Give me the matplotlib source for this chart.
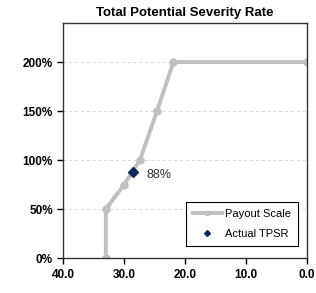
import matplotlib
matplotlib.use("Agg")
from matplotlib import pyplot as plt
from matplotlib.ticker import FuncFormatter
import numpy as np

# Payout scale (TPSR -> payout %)
scale_x = [33.0, 33.0, 30.0, 27.4, 24.6, 21.9, 0.0]
scale_y = [0.0, 0.50, 0.75, 1.00, 1.50, 2.00, 2.00]
actual_x = [28.6]
actual_y = [0.88]
actual_label = "88%"
xticks = [40, 30, 20, 10, 0]
yticks = [0, 0.5, 1.0, 1.5, 2.0]

plt.rcParams['font.family'] = ['Liberation Sans', 'DejaVu Sans']
fig = plt.figure(figsize=(3.16, 2.93), dpi=100)
ax = fig.add_axes([0.200, 0.119, 0.771, 0.803])

ax.plot(scale_x, scale_y, color="#c0c0c0", lw=2.8, marker="o", ms=5,
        label="Payout Scale", zorder=2)
ax.plot(actual_x, actual_y, ls="", marker="D", ms=5, color="#0d2a5c",
        label="Actual TPSR", zorder=3)
ax.annotate(actual_label, (actual_x[0], actual_y[0]), xytext=(10, -2),
            textcoords="offset points", fontsize=9, color="#333333", va="center")

ax.set_xlim(40, 0)
ax.set_ylim(0, 2.4)
ax.set_xticks(xticks)
ax.set_yticks(yticks)
ax.xaxis.set_major_formatter(FuncFormatter(lambda v, p: "{:.1f}".format(v)))
ax.yaxis.set_major_formatter(FuncFormatter(lambda v, p: "{:.0f}%".format(v*100)))
ax.tick_params(labelsize=8.5, length=4, direction="out", width=1)
for lab in ax.get_xticklabels() + ax.get_yticklabels():
    lab.set_fontweight("bold")
ax.grid(axis="y", ls=(0, (3, 3)), color="#d8d8d8", lw=0.7)
ax.set_axisbelow(True)
for s in ax.spines.values():
    s.set_color("#333333")
    s.set_linewidth(1)

ax.set_title("Total Potential Severity Rate", fontsize=9.5, fontweight="bold", pad=5)
leg = ax.legend(loc="lower right", fontsize=8, fancybox=False, edgecolor="#000000",
                framealpha=1, borderpad=0.6, handlelength=2.6, handletextpad=0.3,
                labelspacing=0.9, markerscale=0.6, bbox_to_anchor=(0.985, 0.03))
leg.get_frame().set_linewidth(0.8)

fig.savefig("out.png", dpi=100)
